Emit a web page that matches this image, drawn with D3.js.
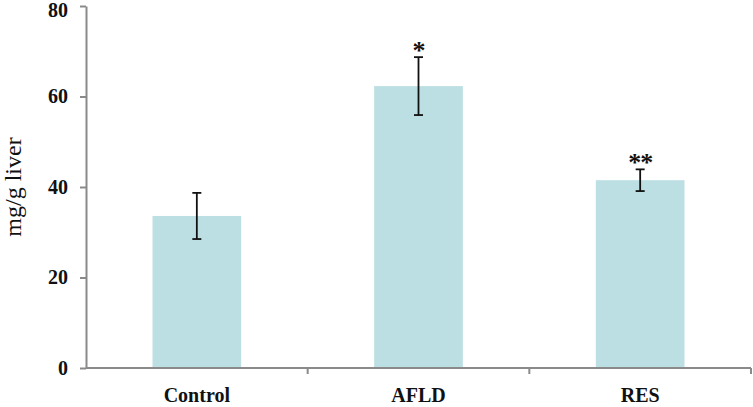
<!DOCTYPE html>
<html>
<head>
<meta charset="utf-8">
<script src="https://cdn.jsdelivr.net/npm/d3@7"></script>
<style>
  html, body { margin: 0; padding: 0; background: #fff; }
  svg { display: block; }
</style>
</head>
<body>
<div id="chart"></div>
<script>
const categories = ['Control', 'AFLD', 'RES'];
const means = [33.6, 62.3, 41.5];
const errors = [5.1, 6.4, 2.4];
const marks = ['', '*', '**'];
const yTicks = [0, 20, 40, 60, 80];

const width = 753, height = 407;
const margin = { top: 6, right: 2, bottom: 39, left: 86 };
const axisColor = '#8a8a8a';
const barColor = '#bbdfe3';
const serif = '"Liberation Serif", "Times New Roman", serif';

const svg = d3.select('#chart').append('svg')
  .attr('width', width)
  .attr('height', height);

const x = d3.scaleBand()
  .domain(categories)
  .range([margin.left, width - margin.right])
  .padding(0);

// bars take 40% of each category slot
const xBar = d3.scaleBand()
  .domain(categories)
  .range([margin.left, width - margin.right])
  .paddingInner(0.6)
  .paddingOuter(0.3);

const y = d3.scaleLinear()
  .domain([0, 80])
  .range([height - margin.bottom, margin.top]);

// Bars
svg.selectAll('.bar')
  .data(categories)
  .enter()
  .append('rect')
  .attr('class', 'bar')
  .attr('x', d => xBar(d))
  .attr('width', xBar.bandwidth())
  .attr('y', (d, i) => y(means[i]))
  .attr('height', (d, i) => y(0) - y(means[i]))
  .attr('fill', barColor);

// Y axis
const yAxis = svg.append('g')
  .attr('transform', `translate(${margin.left},0)`)
  .call(d3.axisLeft(y).tickValues(yTicks).tickSize(6).tickSizeOuter(0).tickPadding(12));
yAxis.select('.domain').attr('stroke', axisColor).attr('stroke-width', 2);
yAxis.selectAll('.tick line').attr('stroke', axisColor).attr('stroke-width', 2);
yAxis.selectAll('.tick text')
  .attr('font-family', serif)
  .attr('font-weight', 'bold')
  .attr('font-size', '20px')
  .attr('fill', '#111');
// keep the top label inside the frame
yAxis.selectAll('.tick text').filter(d => d === 80).attr('dy', '0.5em');

// X axis with ticks at category boundaries
const xAxisG = svg.append('g');
xAxisG.append('line')
  .attr('x1', margin.left)
  .attr('x2', width - margin.right)
  .attr('y1', y(0))
  .attr('y2', y(0))
  .attr('stroke', axisColor)
  .attr('stroke-width', 2);
const boundaries = categories.slice(1).map(c => x(c)).concat([x(categories[categories.length - 1]) + x.bandwidth()]);
xAxisG.selectAll('.xtick')
  .data(boundaries)
  .enter()
  .append('line')
  .attr('x1', d => d)
  .attr('x2', d => d)
  .attr('y1', y(0))
  .attr('y2', y(0) + 6)
  .attr('stroke', axisColor)
  .attr('stroke-width', 2);
xAxisG.selectAll('.xlabel')
  .data(categories)
  .enter()
  .append('text')
  .attr('x', d => x(d) + x.bandwidth() / 2)
  .attr('y', y(0) + 34)
  .attr('text-anchor', 'middle')
  .attr('font-family', serif)
  .attr('font-weight', 'bold')
  .attr('font-size', '20px')
  .attr('fill', '#111')
  .text(d => d);

// Error bars
const capW = 9;
const eb = svg.selectAll('.err')
  .data(categories)
  .enter()
  .append('g')
  .attr('stroke', '#111')
  .attr('stroke-width', 1.8);
eb.append('line')
  .attr('x1', d => x(d) + x.bandwidth() / 2)
  .attr('x2', d => x(d) + x.bandwidth() / 2)
  .attr('y1', (d, i) => y(means[i] + errors[i]))
  .attr('y2', (d, i) => y(means[i] - errors[i]));
eb.append('line')
  .attr('x1', d => x(d) + x.bandwidth() / 2 - capW / 2)
  .attr('x2', d => x(d) + x.bandwidth() / 2 + capW / 2)
  .attr('y1', (d, i) => y(means[i] + errors[i]))
  .attr('y2', (d, i) => y(means[i] + errors[i]));
eb.append('line')
  .attr('x1', d => x(d) + x.bandwidth() / 2 - capW / 2)
  .attr('x2', d => x(d) + x.bandwidth() / 2 + capW / 2)
  .attr('y1', (d, i) => y(means[i] - errors[i]))
  .attr('y2', (d, i) => y(means[i] - errors[i]));

// Significance marks
svg.selectAll('.sig')
  .data(categories)
  .enter()
  .append('text')
  .attr('x', d => x(d) + x.bandwidth() / 2)
  .attr('y', (d, i) => y(means[i] + errors[i]) + 2)
  .attr('text-anchor', 'middle')
  .attr('font-family', serif)
  .attr('font-weight', 'bold')
  .attr('font-size', '26px')
  .attr('letter-spacing', '-1px')
  .attr('fill', '#111')
  .text((d, i) => marks[i]);

// Y axis title
svg.append('text')
  .attr('transform', `translate(21,${y(40)}) rotate(-90)`)
  .attr('text-anchor', 'middle')
  .attr('font-family', serif)
  .attr('font-size', '24px')
  .attr('fill', '#111')
  .text('mg/g liver');
</script>
</body>
</html>
